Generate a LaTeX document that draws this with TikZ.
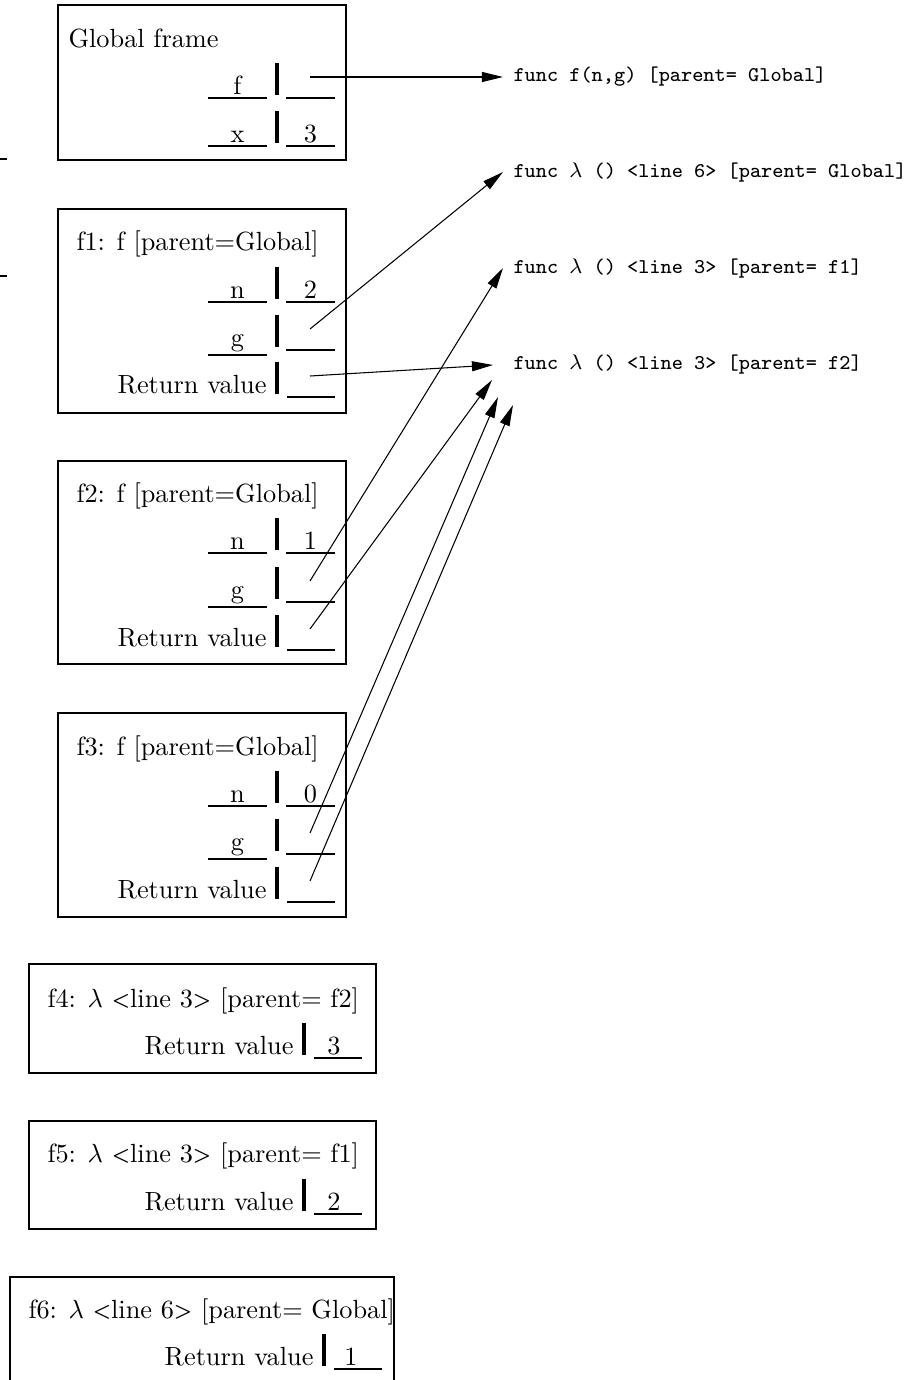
\documentclass[tikz,border=0pt]{standalone}
\usetikzlibrary{arrows.meta,calc,fit}
\newcommand\tless{\raisebox{0.1pt}{\scalebox{0.78}{\bfseries<}}}
\newcommand\tgtr{\raisebox{0.1pt}{\scalebox{0.78}{\bfseries>}}}
\newcommand\varrow[5]{% #1 id, #2 baseline, #3 name, #4 value, #5 name underline offset
  \node[txt] (#1name) at (237.5,#2) {#3};
  \draw[uline] (208,#2+#5) -- (267,#2+#5);
  \draw[vbar] (277,#2+1) -- (277,#2-31);
  \draw[uline] (286,#2+4) -- (335,#2+4);
  \node[txt] (#1val) at (310.5,#2) {#4};
  \coordinate (#1ptr) at (310,#2-17);
}
\newcommand\retrow[5]{% #1 id, #2 baseline, #3 bar x, #4 value, #5 value offset
  \node[txt, anchor=base east] (#1rname) at (#3-10,#2) {Return value};
  \draw[vbar] (#3,#2+1) -- (#3,#2-31);
  \draw[uline] (#3+10,#2+4) -- (#3+58,#2+4);
  \node[txt] (#1rval) at (#3+#5,#2) {#4};
  \coordinate (#1rptr) at (#3+33,#2-17);
}
\begin{document}
\begin{tikzpicture}[x=0.3802pt,y=-0.3802pt,
  frm/.style={draw, line width=0.4pt, inner sep=0pt},
  txt/.style={inner sep=0pt, anchor=base},
  ttl/.style={inner sep=0pt, anchor=base west},
  uline/.style={line width=1.1pt},
  vbar/.style={line width=1.6pt},
  fn/.style={font=\footnotesize\ttfamily, anchor=west, inner sep=0pt},
  ptr/.style={line width=0.4pt, -{Triangle[length=8pt,width=3.8pt]}},
  tick/.style={line width=0.6pt}]
\useasboundingbox (0,0) rectangle (923,1380);

% stray ticks at the left edge
\coordinate (t1a) at (0,159); \coordinate (t1b) at (7,159);
\coordinate (t2a) at (0,276); \coordinate (t2b) at (7,276);
\draw[tick] (t1a) -- (t1b);
\draw[tick] (t2a) -- (t2b);

% frames
\node[frm, fit={(58,5)(346,160)}] (global) {};
\node[frm, fit={(58,209)(346,413)}] (fone) {};
\node[frm, fit={(58,461)(346,664)}] (ftwo) {};
\node[frm, fit={(58,713)(346,917)}] (fthree) {};
\node[frm, fit={(29,964)(376,1073)}] (ffour) {};
\node[frm, fit={(29,1121)(376,1229)}] (ffive) {};
\node[frm, fit={(10,1277)(394,1386)}] (fsix) {};

% titles
\node[ttl] (tglobal) at (68,47) {Global frame};
\node[ttl] (tone) at (76,250) {f1: f [parent=Global]};
\node[ttl] (ttwo) at (76,502) {f2: f [parent=Global]};
\node[ttl] (tthree) at (76,755) {f3: f [parent=Global]};
\node[ttl] (tfour) at (47,1007) {f4: $\lambda$ \tless line 3\tgtr{} [parent= f2]};
\node[ttl] (tfive) at (47,1162) {f5: $\lambda$ \tless line 3\tgtr{} [parent= f1]};
\node[ttl] (tsix) at (28,1318) {f6: $\lambda$ \tless line 6\tgtr{} [parent= Global]};

% rows
\varrow{gf}{94}{f}{}{4}
\varrow{gx}{142}{x}{3}{4}
\varrow{an}{298}{n}{2}{4}
\varrow{ag}{346}{g}{}{9}
\retrow{a}{393}{277}{}{33}
\varrow{bn}{549}{n}{1}{4}
\varrow{bg}{598}{g}{}{9}
\retrow{b}{646}{277}{}{33}
\varrow{cn}{802}{n}{0}{4}
\varrow{cg}{850}{g}{}{9}
\retrow{c}{898}{277}{}{33}
\retrow{d}{1054}{304}{3}{30}
\retrow{e}{1210}{304}{2}{30}
\retrow{h}{1365}{324}{1}{27}

% function objects
\node[fn] (ff) at (513,77) {func f(n,g) [parent= Global]};
\node[fn] (lsix) at (513,173) {func $\lambda$ () <line 6> [parent= Global]};
\node[fn] (lfone) at (513,269) {func $\lambda$ () <line 3> [parent= f1]};
\node[fn] (lftwo) at (513,365) {func $\lambda$ () <line 3> [parent= f2]};

% pointers
\draw[ptr] (gfptr) -- ($(ff.west)+(-10,0)$);
\draw[ptr] (agptr) -- ($(lsix.west)+(-10,-1)$);
\draw[ptr] (arptr) -- ($(lftwo.west)+(-20,0)$);
\draw[ptr] (bgptr) -- ($(lfone.west)+(-10,-1)$);
\draw[ptr] (brptr) -- ($(lftwo.west)+(-21,15)$);
\draw[ptr] (cgptr) -- ($(lftwo.west)+(-15,32)$);
\draw[ptr] (crptr) -- ($(lftwo.west)+(0,40)$);
\end{tikzpicture}
\end{document}
